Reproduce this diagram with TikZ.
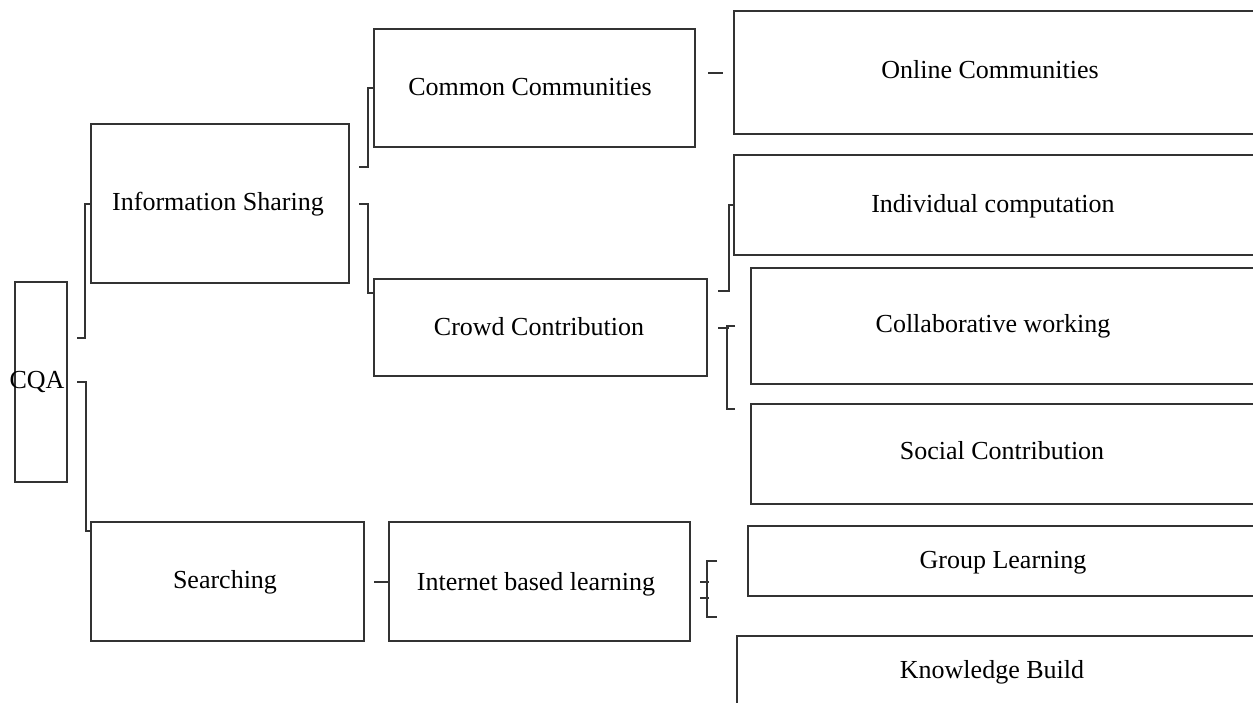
\documentclass[tikz,border=0pt]{standalone}
\usepackage{fontspec}
\setmainfont{Liberation Serif}
\begin{document}
\begin{tikzpicture}[x=1pt,y=-1pt,
  box/.style={draw=black!80, line width=2pt, inner sep=0pt, anchor=north west},
  lbl/.style={font=\fontsize{26}{30}\selectfont, inner sep=0pt, anchor=base},
  conn/.style={draw=black!80, line width=2pt}]
\useasboundingbox (0,0) rectangle (1253,702);
\clip (0,0) rectangle (1253,702);
\fill[white] (0,0) rectangle (1253,702);
% left part
\node[box, minimum width=52pt, minimum height=200pt] (cqa) at (14,281) {};
\node[lbl] (cqaT) at (37,388) {CQA};
\node[box, minimum width=258pt, minimum height=159pt] (is) at (90,123) {};
\node[lbl] (isT) at (218,210) {Information Sharing};
\node[box, minimum width=273pt, minimum height=119pt] (search) at (90,521) {};
\node[lbl] (searchT) at (225,588) {Searching};
% middle column
\node[box, minimum width=321pt, minimum height=118pt] (cc) at (373,28) {};
\node[lbl] (ccT) at (530,95) {Common Communities};
\node[box, minimum width=333pt, minimum height=97pt] (crowd) at (373,278) {};
\node[lbl] (crowdT) at (539,335) {Crowd Contribution};
\node[box, minimum width=301pt, minimum height=119pt] (internet) at (388,521) {};
\node[lbl] (internetT) at (536,590) {Internet based learning};
% right column
\node[box, minimum width=532pt, minimum height=123pt] (online) at (733,10) {};
\node[lbl] (onlineT) at (990,78) {Online Communities};
\node[box, minimum width=532pt, minimum height=100pt] (indiv) at (733,154) {};
\node[lbl] (indivT) at (993,212) {Individual computation};
\node[box, minimum width=515pt, minimum height=116pt] (collab) at (750,267) {};
\node[lbl] (collabT) at (993,332) {Collaborative working};
\node[box, minimum width=515pt, minimum height=100pt] (social) at (750,403) {};
\node[lbl] (socialT) at (1002,459) {Social Contribution};
\node[box, minimum width=518pt, minimum height=70pt] (group) at (747,525) {};
\node[lbl] (groupT) at (1003,568) {Group Learning};
\node[box, minimum width=530pt, minimum height=90pt] (know) at (736,635) {};
\node[lbl] (knowT) at (992,678) {Knowledge Build};
% connectors
\draw[conn] ([xshift=9pt,yshift=44pt]cqa.east) -- ++(8,0) |- (is.west);
\draw[conn] ([xshift=9pt]cqa.east) -- ++(9,0) |- ([yshift=-10pt]search.north west);
\draw[conn] ([xshift=9pt,yshift=37pt]is.east) -- ++(9,0) |- (cc.west);
\draw[conn] ([xshift=9pt]is.east) -- ++(9,0) |- ([yshift=-15pt]crowd.north west);
\draw[conn] ([xshift=12pt]cc.east |- online.west) -- ([xshift=-10pt]online.west);
\draw[conn] ([xshift=10pt,yshift=37pt]crowd.east) -- ++(11,0) |- (indiv.west);
\draw[conn] ([xshift=10pt]crowd.east) -- ++(11,0);
\draw[conn] ([xshift=-15pt]collab.west) -- ++(-8,0) |- ([xshift=-15pt,yshift=-6pt]social.north west);
\draw[conn] ([xshift=9pt]search.east) -- (internet.west);
\draw[conn] ([xshift=9pt]internet.east) -- ++(9,0);
\draw[conn] ([xshift=9pt,yshift=-16pt]internet.east) -- ++(9,0);
\draw[conn] ([xshift=-30pt]group.west) -- ++(-10,0) -- ++(0,56) -- ++(10,0);
\end{tikzpicture}
\end{document}
